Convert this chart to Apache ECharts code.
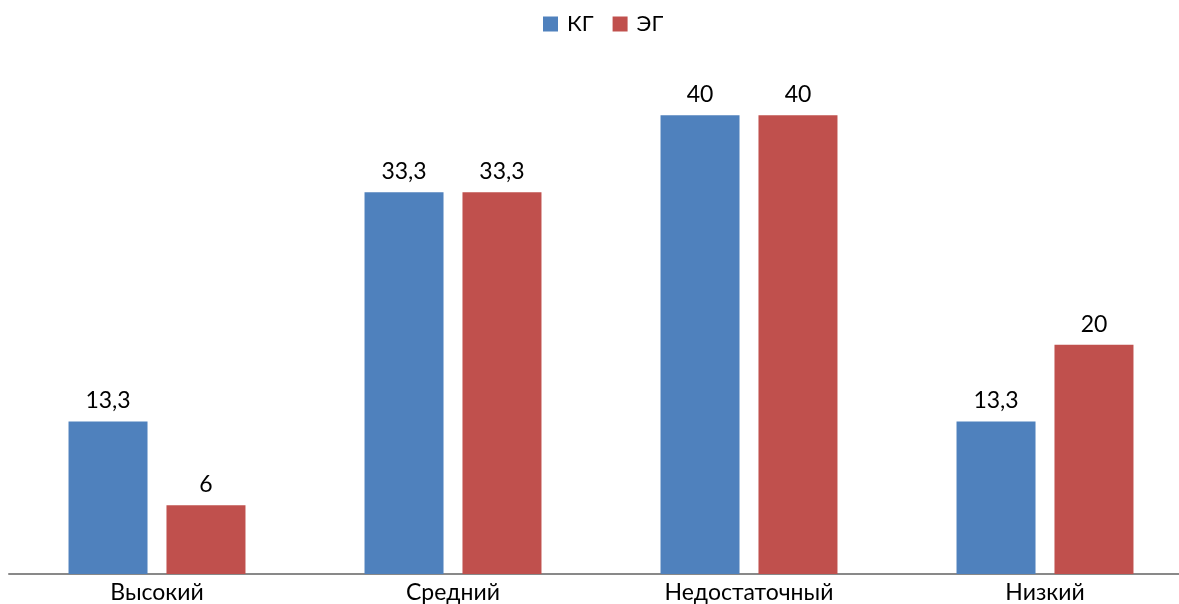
<!DOCTYPE html>
<html>
<head>
<meta charset="utf-8">
<script src="https://cdn.jsdelivr.net/npm/echarts@6/dist/echarts.min.js"></script>
<style>
  html, body { margin: 0; padding: 0; background: #ffffff; }
  #chart { width: 1179px; height: 604px; }
</style>
</head>
<body>
<div id="chart"></div>
<script>
// Levels and group percentages
const categories = ['Высокий', 'Средний', 'Недостаточный', 'Низкий'];
const seriesNames = ['КГ', 'ЭГ'];
const kgValues = [13.3, 33.3, 40, 13.3];
const egValues = [6, 33.3, 40, 20];

const FONT = 'Lato, "Open Sans", "Liberation Sans", sans-serif';
const fmt = p => String(p.value).replace('.', ',');

const chart = echarts.init(document.getElementById('chart'), null, { renderer: 'canvas' });

const labelStyle = {
  show: true,
  position: 'top',
  distance: 9,
  formatter: fmt,
  color: '#000000',
  fontSize: 23,
  fontFamily: FONT
};

chart.setOption({
  animation: false,
  backgroundColor: '#ffffff',
  legend: {
    data: seriesNames,
    left: 543,
    top: 13,
    padding: 0,
    itemWidth: 15,
    itemHeight: 15,
    itemGap: 19,
    icon: 'rect',
    textStyle: { fontSize: 22, fontFamily: FONT, color: '#000000', padding: [0, 0, 0, 4] }
  },
  // the plot runs a little past the right edge of the canvas
  grid: { left: 9, width: 1184, top: 58, bottom: 30, containLabel: false, outerBoundsMode: 'none' },
  xAxis: {
    type: 'category',
    data: categories,
    axisLine: { lineStyle: { color: '#898989', width: 2 } },
    axisTick: { show: false },
    axisLabel: { color: '#000000', fontSize: 23, fontFamily: FONT, margin: 7 }
  },
  yAxis: {
    type: 'value',
    min: 0,
    max: 45,
    show: false,
    splitLine: { show: false }
  },
  series: [
    {
      name: seriesNames[0],
      type: 'bar',
      data: kgValues,
      barWidth: 79,
      barGap: '24%',
      itemStyle: { color: '#4F81BD' },
      label: labelStyle
    },
    {
      name: seriesNames[1],
      type: 'bar',
      data: egValues,
      barWidth: 79,
      barGap: '24%',
      itemStyle: { color: '#C0504D' },
      label: labelStyle
    }
  ]
});
</script>
</body>
</html>
